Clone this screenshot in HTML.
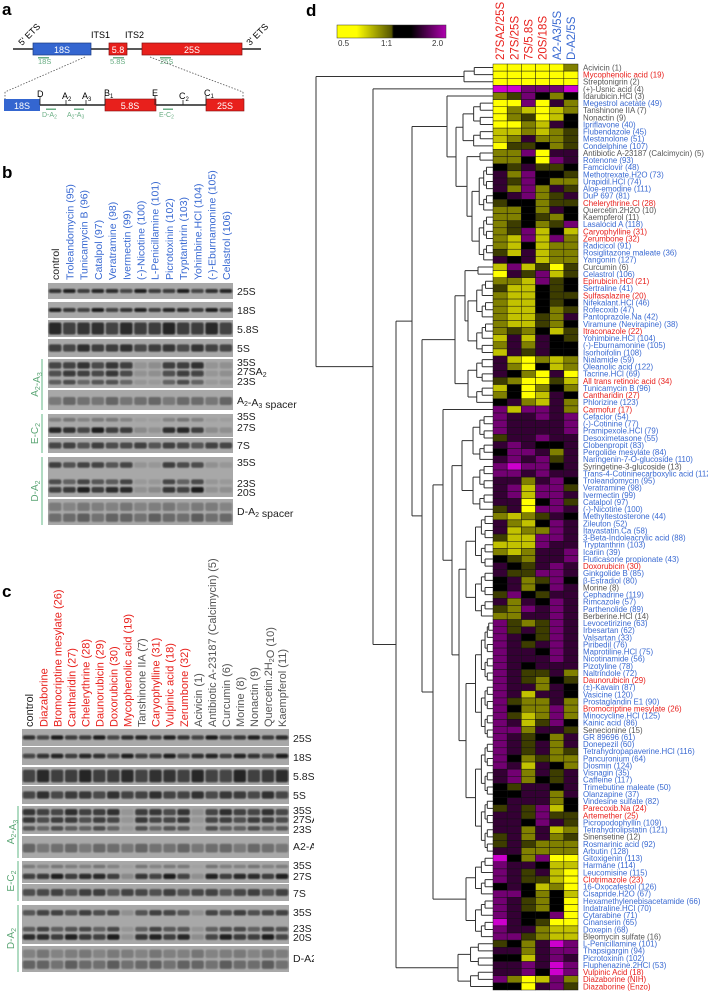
<!DOCTYPE html>
<html><head><meta charset="utf-8">
<style>
html,body{margin:0;padding:0;background:#fff;}
svg{display:block;font-family:"Liberation Sans",Arial,sans-serif;}
</style></head>
<body>
<svg id="fig" width="708" height="992" viewBox="0 0 708 992" xmlns="http://www.w3.org/2000/svg">
<defs>
<linearGradient id="cbar" x1="0" x2="1" y1="0" y2="0">
<stop offset="0" stop-color="#ffff00"/><stop offset="0.18" stop-color="#ffff00"/><stop offset="0.5" stop-color="#555500"/><stop offset="0.52" stop-color="#000"/><stop offset="0.68" stop-color="#000"/><stop offset="1" stop-color="#b000b0"/>
</linearGradient>
<clipPath id="leftclip"><rect x="0" y="0" width="314" height="992"/></clipPath>
<filter id="blur" x="-20%" y="-50%" width="140%" height="200%"><feGaussianBlur stdDeviation="0.9"/></filter>
</defs>

<!-- Panel a -->
<g>
<text x="2" y="15" font-size="17" font-weight="bold">a</text>
<line x1="13" y1="49" x2="261" y2="49" stroke="#222" stroke-width="1.5"/>
<rect x="33" y="43" width="58" height="12" fill="#3466d0" stroke="#1c3a80" stroke-width="0.7"/>
<text x="62" y="53" font-size="9" fill="#fff" text-anchor="middle">18S</text>
<rect x="109" y="43" width="18" height="12" fill="#e8201c" stroke="#801010" stroke-width="0.7"/>
<text x="118" y="53" font-size="9" fill="#fff" text-anchor="middle">5.8</text>
<rect x="142" y="43" width="100" height="12" fill="#e8201c" stroke="#801010" stroke-width="0.7"/>
<text x="192" y="53" font-size="9" fill="#fff" text-anchor="middle">25S</text>
<text x="22" y="46" font-size="9" transform="rotate(-45 22 46)">5' ETS</text>
<text x="250" y="46" font-size="9" transform="rotate(-45 250 46)">3' ETS</text>
<text x="91" y="38" font-size="9">ITS1</text>
<text x="125" y="38" font-size="9">ITS2</text>
<g fill="#6aae84" font-size="7.5">
<rect x="38" y="57" width="11" height="1.5"/><text x="38" y="64">18S</text>
<rect x="113" y="57" width="11" height="1.5"/><text x="110" y="64">5.8S</text>
<rect x="160" y="57" width="11" height="1.5"/><text x="160" y="64">25S</text>
</g>
<line x1="85" y1="57" x2="5" y2="92" stroke="#555" stroke-dasharray="1.5,1.5" stroke-width="0.8"/>
<line x1="150" y1="57" x2="243" y2="92" stroke="#555" stroke-dasharray="1.5,1.5" stroke-width="0.8"/>
<line x1="5" y1="92" x2="5" y2="100" stroke="#555" stroke-dasharray="1.5,1.5" stroke-width="0.8"/>
<line x1="243" y1="92" x2="243" y2="100" stroke="#555" stroke-dasharray="1.5,1.5" stroke-width="0.8"/>
<line x1="40" y1="105" x2="206" y2="105" stroke="#222" stroke-width="1.5"/>
<rect x="4" y="99" width="36" height="12" fill="#3466d0"/>
<text x="22" y="109" font-size="9" fill="#fff" text-anchor="middle">18S</text>
<rect x="105" y="99" width="51" height="12" fill="#e8201c" stroke="#801010" stroke-width="0.6"/>
<text x="130" y="109" font-size="9" fill="#fff" text-anchor="middle">5.8S</text>
<rect x="206" y="99" width="38" height="12" fill="#e8201c" stroke="#801010" stroke-width="0.6"/>
<text x="225" y="109" font-size="9" fill="#fff" text-anchor="middle">25S</text>
<g stroke="#222" stroke-width="0.8">
<line x1="40" y1="96" x2="40" y2="105"/><line x1="66" y1="100" x2="66" y2="105"/><line x1="86" y1="100" x2="86" y2="105"/>
<line x1="105" y1="96" x2="105" y2="105"/><line x1="155" y1="96" x2="155" y2="105"/><line x1="183" y1="100" x2="183" y2="105"/><line x1="206" y1="96" x2="206" y2="105"/>
</g>
<g font-size="9">
<text x="37" y="97">D</text><text x="62" y="99">A<tspan font-size="6" dy="2">2</tspan></text><text x="82" y="99">A<tspan font-size="6" dy="2">3</tspan></text>
<text x="104" y="96">B<tspan font-size="6" dy="2">1</tspan></text><text x="152" y="96">E</text><text x="179" y="99">C<tspan font-size="6" dy="2">2</tspan></text><text x="204" y="96">C<tspan font-size="6" dy="2">1</tspan></text>
</g>
<g fill="#6aae84" font-size="7">
<rect x="46" y="108.5" width="10" height="1.5"/><text x="42" y="117">D-A<tspan font-size="5" dy="1.5">2</tspan></text>
<rect x="74" y="108.5" width="10" height="1.5"/><text x="67" y="117">A<tspan font-size="5" dy="1.5">2</tspan><tspan dy="-1.5">-A</tspan><tspan font-size="5" dy="1.5">3</tspan></text>
<rect x="163" y="108.5" width="10" height="1.5"/><text x="159" y="117">E-C<tspan font-size="5" dy="1.5">2</tspan></text>
</g>
</g>

<g id="gels" clip-path="url(#leftclip)"></g>

<!-- Panel d -->
<g>
<text x="306" y="16" font-size="17" font-weight="bold">d</text>
<rect x="337" y="25" width="109" height="13" fill="url(#cbar)" stroke="#333" stroke-width="0.5"/>
<g font-size="8" fill="#333">
<text x="338" y="46">0.5</text><text x="381" y="46">1:1</text><text x="432" y="46">2.0</text>
</g>
<g id="dendro" stroke="#333" stroke-width="1" fill="none"></g>
<g id="heat"></g>
<g id="hcols"></g>
<g id="rlabels"></g>
</g>
</svg>

<script>
const NS="http://www.w3.org/2000/svg";
function mk(tag,attrs,parent){const e=document.createElementNS(NS,tag);for(const k in attrs)e.setAttribute(k,attrs[k]);if(parent)parent.appendChild(e);return e;}

/* ---------- heatmap data ---------- */
const columns=["27SA2/25S","27S/25S","7S/5.8S","20S/18S","A2-A3/5S","D-A2/5S"];
const columnColors=["#e8201c","#e8201c","#e8201c","#e8201c","#3a6ad2","#3a6ad2"];
const compounds=["Acivicin (1)","Mycophenolic acid (19)","Streptonigrin (2)","(+)-Usnic acid (4)","Idarubicin.HCl (3)","Megestrol acetate (49)","Tanshinone IIA (7)","Nonactin (9)","Ipriflavone (40)","Flubendazole (45)","Mestanolone (51)","Condelphine (107)","Antibiotic A-23187 (Calcimycin) (5)","Rotenone (93)","Famciclovir (48)","Methotrexate.H2O (73)","Urapidil.HCl (74)","Aloe-emodine (111)","DuP 697 (81)","Chelerythrine.Cl (28)","Quercetin.2H2O (10)","Kaempferol (11)","Lasalocid A (118)","Caryophylline (31)","Zerumbone (32)","Radicicol (91)","Rosiglitazone maleate (36)","Yangonin (127)","Curcumin (6)","Celastrol (106)","Epirubicin.HCl (21)","Sertraline (41)","Sulfasalazine (20)","Nifekalant.HCl (46)","Rofecoxib (47)","Pantoprazole.Na (42)","Viramune (Nevirapine) (38)","Itraconazole (22)","Yohimbine.HCl (104)","(-)-Eburnamonine (105)","Isorhoifolin (108)","Nialamide (59)","Oleanolic acid (122)","Tacrine.HCl (69)","All trans retinoic acid (34)","Tunicamycin B (96)","Cantharidin (27)","Phlorizine (123)","Carmofur (17)","Cefaclor (54)","(-)-Cotinine (77)","Pramipexole.HCl (79)","Desoximetasone (55)","Clobenpropit (83)","Pergolide mesylate (84)","Naringenin-7-O-glucoside (110)","Syringetine-3-glucoside (13)","Trans-4-Cotininecarboxylic acid (112)","Troleandomycin (95)","Veratramine (98)","Ivermectin (99)","Catalpol (97)","(-)-Nicotine (100)","Methyltestosterone (44)","Zileuton (52)","Itavastatin.Ca (58)","3-Beta-Indoleacrylic acid (88)","Tryptanthrin (103)","Icariin (39)","Fluticasone propionate (43)","Doxorubicin (30)","Ginkgolide B (85)","β-Estradiol (80)","Morine (8)","Cephadrine (119)","Rimcazole (57)","Parthenolide (89)","Berberine.HCl (14)","Levocetirizine (63)","Irbesartan (62)","Valsartan (33)","Piribedil (76)","Maprotiline.HCl (75)","Nicotinamide (56)","Pizotyline (78)","Naltrindole (72)","Daunorubicin (29)","(±)-Kavain (87)","Vasicine (120)","Prostaglandin E1 (90)","Bromocriptine mesylate (26)","Minocycline.HCl (125)","Kainic acid (86)","Senecionine (15)","GR 89696 (61)","Donepezil (60)","Tetrahydropapaverine.HCl (116)","Pancuronium (64)","Diosmin (124)","Visnagin (35)","Caffeine (117)","Trimebutine maleate (50)","Olanzapine (37)","Vindesine sulfate (82)","Parecoxib.Na (24)","Artemether (25)","Picropodophyllin (109)","Tetrahydrolipstatin (121)","Sinensetine (12)","Rosmarinic acid (92)","Arbutin (128)","Gitoxigenin (113)","Harmane (114)","Leucomisine (115)","Clotrimazole (23)","16-Oxocafestol (126)","Cisapride.H2O (67)","Hexamethylenebisacetamide (66)","Indatraline.HCl (70)","Cytarabine (71)","Cinanserin (65)","Doxepin (68)","Bleomycin sulfate (16)","L-Penicillamine (101)","Thapsigargin (94)","Picrotoxinin (102)","Fluphenazine.2HCl (53)","Vulpinic Acid (18)","Diazaborine (NIH)","Diazaborine (Enzo)"];
const ratios=[
[.5,.5,.5,.5,.5,.75],[.5,.5,.5,.5,.5,.5],[.5,.5,.5,.5,.5,.5],[2,2,1.5,1.5,1.5,2],[.75,.88,1.5,1,.75,1],
[.5,.5,1.5,.5,1.2,.75],[.5,.75,.62,.5,.62,.75],[.5,.75,.88,.5,.62,1],[.5,.5,.75,.62,1.2,1],[.62,.62,.75,.62,.75,.88],
[.62,.75,1.2,.75,.75,.88],[.5,.88,.88,1,.75,.88],[.75,.75,1.5,.5,1.2,1.2],[.75,.75,1,.5,1.5,1.2],[1,.88,1.2,.88,.88,1],
[1.2,.75,1.5,1,1,.88],[1.2,.88,1.5,1,.75,.75],[1.2,.75,1.5,.75,1.2,.88],[1,1.2,1.5,.75,.88,1.2],[.88,1,1,.75,.88,.88],
[.75,.75,1,.75,1.2,1],[.75,.75,1,.88,.75,1],[.75,.88,1,.75,.88,1.5],[.75,.88,1.5,.62,1,.62],[.75,.62,1.5,.62,1.5,.75],
[.75,.62,1,.62,.75,.75],[.88,.62,1.2,.62,.75,.75],[1.2,1,1.2,.62,.75,.75],[.62,1.5,.62,.88,.5,.88],[.5,1.2,.88,1.5,.62,.88],
[.75,.75,.62,1.5,.88,1],[.88,.62,.62,1,.88,1],[.75,.62,.62,1,.88,.88],[.75,.62,.62,1,.88,1],[.75,.62,.62,1,.75,.88],
[.75,.62,.62,.88,.75,1.2],[.75,.62,.62,.88,.75,1],[.75,.88,.75,1,.62,.88],[.62,1.2,.62,1.2,1,.88],[.75,1.2,.75,1.2,1,1],
[.62,1.2,.88,1.2,1,1],[1.2,.62,.5,.75,.62,.75],[1.2,.75,.5,1,.62,.75],[1.2,1,.75,.5,1.2,.5],[.88,.75,.5,.5,.88,.62],
[.62,1,.5,.75,1,.75],[.75,1,.5,.62,1.2,1],[1,1.2,.75,.62,1.2,.75],[1.5,.62,1.5,1.5,1.2,.75],[1.5,1.2,1.2,1.5,1.2,1.5],
[1.5,1.2,1.2,1.2,1.2,1.5],[1.5,1.2,1.2,1.2,1.2,1.5],[.88,1.2,1.2,1.5,1.2,1.2],[1.2,1.5,1.2,1,1,1.2],[1,1.5,1.5,1.2,.75,1.2],
[1.2,1.5,1.2,1.5,.88,1.2],[1.5,2,1.5,1.5,1,1.2],[1.5,1.5,1.2,1.5,1.2,1.2],[1.2,1.2,.75,1.2,1.5,1],[1.2,1.5,.62,1.5,1.5,.88],
[1.2,1.5,.62,1.5,1.5,1.2],[1.2,1.2,.5,1,1.5,.88],[.88,1.2,.5,1.5,1.5,1.2],[.75,.62,.75,.88,1.2,1],[1.2,.75,.62,1,1.5,1.2],
[1.2,.62,.75,.75,1.5,1.2],[.88,.62,.62,1.5,1.5,1.2],[.62,.62,.62,1.5,1.2,1.2],[.75,.62,.75,1.2,1.2,1.5],[1,.88,.75,1.2,1.2,1.5],
[1.2,1,.88,1.2,1.5,1.2],[1.2,.88,.88,1.5,1.5,1.2],[1,1.2,.75,.88,1.5,1],[1,1.2,.75,1,1.5,1.2],[.88,1.5,1,.88,1.2,1.2],
[1.2,.75,1.2,1,1.5,1.2],[.88,.75,1.5,1.2,1.5,1.2],[.75,.75,1.2,1.2,1.5,1.2],[1.5,.88,.75,.88,1.5,1.2],[1.5,.88,1.2,.88,1.5,1.2],
[1.5,1.2,1,.88,1.5,1.2],[1.5,1.2,.88,1.2,1.5,1.2],[1.5,1.2,1.2,1,1.5,1.2],[1.5,1.2,1.2,1.2,1.5,1.2],[1.5,1.2,1,1.2,1.2,1.2],
[1.5,1.2,.88,.88,1.2,.75],[1.5,1.2,.88,.75,1,.88],[1.5,1.2,1.2,.75,1.2,1],[1.5,1.2,.62,1.2,1.2,1],[1.5,.88,.75,.75,1.2,.75],
[1.5,1,.75,.75,1.5,.75],[1.5,.88,.62,.75,1.5,.75],[1.5,1.2,.62,.88,1.5,1],[1.5,1.5,.75,1.2,1.2,.88],[1.5,1.2,.88,1,.75,1.2],
[1.5,1.2,.88,1.2,.75,1.2],[1.5,1.2,.88,1.2,.75,.88],[1.5,1,.75,.88,.75,.75],[1.5,1.2,.62,1.2,1,.75],[1.2,1.5,.75,1.2,.88,1.2],
[1.2,1.5,.75,1,.88,1.2],[1,.88,1.2,1.2,1,1.2],[1,1,1.2,1.2,.75,1.2],[1,1.2,1.2,1.2,.75,1],[.88,1.2,.88,1.5,.62,1],
[1.2,1.2,.88,1.5,.88,.88],[1.2,1.2,1,1.5,1.2,.88],[1.2,1.2,.75,1.2,.62,.75],[.88,1.2,.75,1.2,.75,.88],[.88,1.2,.88,.75,.75,.75],
[1.2,1.2,.75,.75,.75,.75],[2,1,.75,1.5,.5,.5],[1.5,1.2,1.2,1,.62,.62],[1.5,1.2,.88,1.2,.62,.5],[1.5,1.2,.88,.88,.62,.5],
[1,1.2,1,.62,.75,.5],[1.5,1.5,1,.75,1,.62],[1.5,1.2,.88,.75,1,.5],[1.5,1.2,.88,.75,1,.5],[1.5,1.2,1,1,1.5,.5],
[2,1.2,1,.88,.5,.5],[1.5,1.2,1.2,.75,.62,.62],[1.5,1.5,.88,.75,.62,.62],[.88,1,.75,1.2,2,1.5],[1.2,1.2,.75,1.2,1.5,1.5],
[1,1,.62,1.2,1.5,1.2],[1.2,1.2,1.5,1.2,2,1.5],[1.2,1.2,1.5,1,2,1.5],[1.5,.75,.5,.62,1.5,.75],[1,1,.5,1.2,1.5,.88]
];

function classOf(name){
  if(name.indexOf('Diazaborine')===0) return 'r';
  const m=name.match(/\((\d+)\)\s*$/); const n=m?+m[1]:0;
  if(n>=1&&n<=16) return 'g';
  if((n>=17&&n<=32)||n===34) return 'r';
  return 'b';
}

const HX0=493, CW=14.17, HY0=64, RH=(990-64)/compounds.length;
function xCol(i){return HX0+i*CW;}
function yRow(i){return HY0+i*RH;}
function colorOf(v){
  if(v<1){const t=Math.min(1,(1-v)/0.5);return `rgb(${Math.round(255*t)},${Math.round(255*t)},0)`;}
  const t=Math.min(1,(v-1)/1);const c=Math.round(205*Math.pow(t,0.85));return `rgb(${c},0,${c})`;
}
const heat=document.getElementById('heat');
ratios.forEach((row,r)=>{row.forEach((v,c)=>{
  const el=mk('rect',{x:xCol(c),y:yRow(r),width:CW,height:RH,fill:colorOf(v),stroke:'#111','stroke-width':0.45},heat);
  
  
});});
const hcols=document.getElementById('hcols');
columns.forEach((name,c)=>{
  const x=xCol(c)+CW/2+4, y=60;
  const t=mk('text',{x:x,y:y,'font-size':11.5,fill:columnColors[c],transform:`rotate(-90 ${x} ${y})`},hcols);
  t.textContent=name;
  
  
});
const clsColor={g:'#555',r:'#e8201c',b:'#3a6ad2'};
const rl=document.getElementById('rlabels');
compounds.forEach((name,r)=>{
  const t=mk('text',{x:583,y:yRow(r)+RH-0.7,'font-size':7.9,fill:clsColor[classOf(name)]},rl);
  t.textContent=name;
  
  
});

/* ---------- dendrogram ---------- */
function N(x,a,b){return {x:x,kids:[a,b]};}
function L(i){return {leaf:i-1};}
function R(a,b,x){
  if(a===b) return L(a);
  const m=Math.floor((a+b)/2); const nx=x+(491-x)*0.38;
  return {x:x,kids:[R(a,m,nx),R(m+1,b,nx)]};
}
const tree=N(316,R(1,3,464),N(373,L(4),N(396,
  N(412,N(447,L(5),N(456,R(6,12,463),N(467,R(13,14,480),R(15,28,472)))),
        N(422,N(455,N(465,R(29,30,478),R(31,41,468)),R(42,48,468)),
              N(433,N(443,L(49),N(452,R(50,63,462),N(459,R(64,78,466),R(79,111,466)))),R(112,123,466)))),
  R(124,130,458))));
const dg=document.getElementById('dendro');
function layout(n){
  if(n.leaf!==undefined){n.y=yRow(n.leaf)+RH/2;n.px=HX0;return;}
  n.kids.forEach(layout);n.y=(n.kids[0].y+n.kids[1].y)/2;n.px=n.x;
}
function draw(n){
  if(n.leaf!==undefined) return;
  let d=`M${n.x},${n.kids[0].y}L${n.x},${n.kids[1].y}`;
  n.kids.forEach(k=>{d+=`M${n.x},${k.y}L${k.px},${k.y}`;draw(k);});
  const p=mk('path',{d:d},dg);
  
  
}
layout(tree);draw(tree);

/* ---------- gels ---------- */
const gels=document.getElementById('gels');
function gelStrip(g,x,y,w,h,n,bands,faint,seed){
  const r=mk('rect',{x:x,y:y,width:w,height:h,fill:'#a8a8a8'},g);
  
  
  const lw=w/n;
  const bg=mk('g',{filter:'url(#blur)'},g);
  bands.forEach((b,bi)=>{
    for(let i=0;i<n;i++){
      let inten=b[2]*(0.85+0.15*Math.sin(i*2.3+seed+bi));
      if(faint&&faint.indexOf(i)>=0&&b[3]) inten*=0.2;
      const bh=Math.max(2,h*b[1]);
      mk('rect',{x:x+i*lw+lw*0.06,y:y+h*b[0]-bh/2,width:lw*0.88,height:bh,rx:2,fill:'#0a0a0a','fill-opacity':Math.min(1,inten).toFixed(2)},bg);
    }
  });
}
function laneLabels(g,x0,w,yb,labels,colors,fs){
  const lw=w/labels.length;
  labels.forEach((s,i)=>{
    const x=x0+i*lw+lw/2+fs*0.38;
    const t=mk('text',{x:x,y:yb,'font-size':fs,fill:colors[i],transform:`rotate(-90 ${x} ${yb})`},g);
    t.innerHTML=s;
    
    
  });
}
function sideLabels(g,x,items){items.forEach(it=>{const t=mk('text',{x:x,y:it[1],'font-size':10.5,fill:'#222'},g);t.innerHTML=it[0];});}
function bracket(g,x,y1,y2,label){
  mk('line',{x1:x,y1:y1,x2:x,y2:y2,stroke:'#7cc39a','stroke-width':1.2},g);
  const cy=(y1+y2)/2, tx=x-4;
  const t=mk('text',{x:tx,y:cy,'font-size':10,fill:'#5aa574','text-anchor':'middle',transform:`rotate(-90 ${tx} ${cy})`},g);
  t.innerHTML=label;
  
  
}
const sub=s=>`<tspan font-size="7" dy="2">${s}</tspan><tspan dy="-2"></tspan>`;
const bandSets={
  s25:[[0.5,0.25,0.9]], s18:[[0.5,0.25,0.9]], s58:[[0.5,0.7,0.85]], s5:[[0.5,0.4,0.8]],
  a23:[[0.22,0.22,0.8,1],[0.5,0.2,0.75,1],[0.8,0.16,0.55,1]], sp:[[0.55,0.4,0.4]],
  ec2:[[0.25,0.16,0.3,1],[0.7,0.24,0.9,1]], s7:[[0.5,0.4,0.7]],
  da2:[[0.2,0.14,0.7,1],[0.62,0.12,0.6,1],[0.82,0.14,0.9,1]], dsp:[[0.3,0.32,0.3],[0.72,0.32,0.45]]
};
const gb=mk('g',{},gels);
mk('text',{x:2,y:178,'font-size':17,'font-weight':'bold'},gb).textContent='b';
const bLanes=['control','Troleandomycin (95)','Tunicamycin B (96)','Catalpol (97)','Veratramine (98)','Ivermectin (99)','(-)-Nicotine (100)','L-Penicillamine (101)','Picrotoxinin (102)','Tryptanthrin (103)','Yohimbine.HCl (104)','(-)-Eburnamonine (105)','Celastrol (106)'];
const bCols=bLanes.map((s,i)=>i===0?'#222':'#3a6ad2');
laneLabels(gb,48,185,280,bLanes,bCols,10.5);
const BX=48,BW=185,BN=13;
[[283,16,'s25'],[302,16,'s18'],[320,17,'s58'],[339,18,'s5'],[359,29,'a23'],[390,20,'sp'],[414,23,'ec2'],[438,15,'s7'],[457,40,'da2'],[499,26,'dsp']]
 .forEach((s,k)=>gelStrip(gb,BX,s[0],BW,s[1],BN,bandSets[s[2]],[6,7,11,12],k));
sideLabels(gb,237,[['25S',295],['18S',314],['5.8S',333],['5S',352],['35S',366],['27SA'+sub('2'),375],['23S',385],['A'+sub('2')+'-A'+sub('3')+' spacer',404],['35S',420],['27S',431],['7S',449],['35S',466],['23S',487],['20S',496],['D-A'+sub('2')+' spacer',515]]);
bracket(gb,42,359,410,'A'+sub('2')+'-A'+sub('3'));
bracket(gb,42,414,453,'E-C'+sub('2'));
bracket(gb,42,457,525,'D-A'+sub('2'));
const gc=mk('g',{},gels);
mk('text',{x:2,y:597,'font-size':17,'font-weight':'bold'},gc).textContent='c';
const cLanes=['control','Diazaborine','Bromocriptine mesylate (26)','Cantharidin (27)','Chelerythrine (28)','Daunorubicin (29)','Doxorubicin (30)','Mycophenolic acid (19)','Tanshinone IIA (7)','Caryophylline (31)','Vulpinic acid (18)','Zerumbone (32)','Acivicin (1)','Antibiotic A-23187 (Calcimycin) (5)','Curcumin (6)','Morine (8)','Nonactin (9)','Quercetin.2H'+sub('2')+'O (10)','Kaempferol (11)'];
const cCols=cLanes.map((s,i)=>i===0?'#222':(i<=7||i===9||i===10||i===11)?'#e8201c':'#555');
laneLabels(gc,22,267,727,cLanes,cCols,11);
const CX=22,CW2=267,CN=19;
[[729,17,'s25'],[747,18,'s18'],[767,18,'s58'],[786,18,'s5'],[806,28,'a23'],[836,22,'sp'],[861,22,'ec2'],[884,17,'s7'],[905,39,'da2'],[946,26,'dsp']]
 .forEach((s,k)=>gelStrip(gc,CX,s[0],CW2,s[1],CN,bandSets[s[2]],[7,12],k+3));
sideLabels(gc,293,[['25S',742],['18S',761],['5.8S',780],['5S',799],['35S',814],['27SA2',823],['23S',833],['A2-A3 spacer',850],['35S',869],['27S',880],['7S',897],['35S',916],['23S',932],['20S',941],['D-A2 spacer',962]]);
bracket(gc,18,806,858,'A'+sub('2')+'-A'+sub('3'));
bracket(gc,18,861,901,'E-C'+sub('2'));
bracket(gc,18,905,972,'D-A'+sub('2'));
</script>
</body></html>
